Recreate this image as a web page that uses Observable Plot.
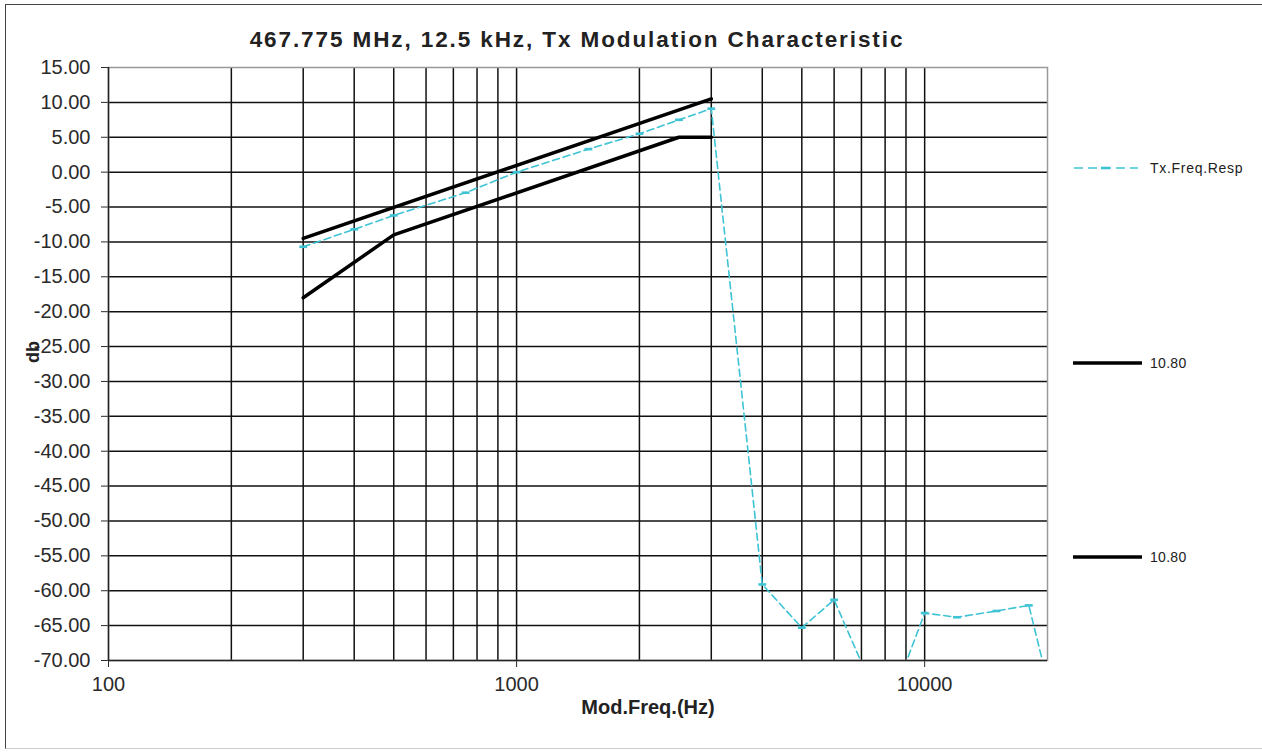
<!DOCTYPE html>
<html><head><meta charset="utf-8">
<script src="https://cdn.jsdelivr.net/npm/d3@7"></script>
<script src="https://cdn.jsdelivr.net/npm/@observablehq/plot@0.6"></script>
<style>
html,body{margin:0;padding:0;background:#fff;}
#wrap{position:relative;width:1262px;height:752px;overflow:hidden;font-family:"Liberation Sans",Arial,sans-serif;color:#222;}
#border{position:absolute;left:5px;top:4px;width:1262px;height:745px;border-left:1.5px solid #444;border-top:1.5px solid #444;border-bottom:1px solid #ccc;box-sizing:border-box;pointer-events:none}
#chart{position:absolute;left:0;top:0}
.t{position:absolute;white-space:nowrap}
#title{left:177px;width:800px;top:27px;text-align:center;font-weight:bold;font-size:22.5px;letter-spacing:1.9px;line-height:26px}
#xtitle{left:548px;width:200px;top:695px;text-align:center;font-weight:bold;font-size:20px;line-height:24px}
#ytitle{left:33px;top:352px;font-weight:bold;font-size:18px;transform:translate(-50%,-50%) rotate(-90deg);line-height:20px}
.leg{position:absolute;left:1070px;height:24px;display:flex;align-items:center;font-size:14px;color:#222}
.leg svg{margin-right:8px}
</style>
</head><body>
<div id="wrap">
  <div id="chart"></div>
  <div id="border"></div>
  <div class="t" id="title">467.775 MHz, 12.5 kHz, Tx Modulation Characteristic</div>
  <div class="t" id="xtitle">Mod.Freq.(Hz)</div>
  <div class="t" id="ytitle">db</div>
  <div id="legend"></div>
</div>
<script>
// ---- data ----
const txFreq = [300, 400, 500, 750, 1000, 1500, 2000, 2500, 3000, 4000, 5000, 6000, 7000, 8000, 9000, 10000, 12000, 15000, 18000, 20000];
const txDb   = [-10.7, -8.2, -6.2, -2.95, 0.0, 3.3, 5.5, 7.5, 9.1, -59.1, -65.3, -61.3, -70.3, -71.5, -70.3, -63.2, -63.8, -62.9, -62.1, -73.0];
const upperFreq = [300, 3000];
const upperDb   = [-9.5, 10.5];
const lowerFreq = [300, 500, 2500, 3000];
const lowerDb   = [-18.0, -9.0, 5.0, 5.0];
const seriesNames = ["Tx.Freq.Resp", "10.80", "10.80"];
const xTickValues = [100, 1000, 10000];
const yTickValues = [15, 10, 5, 0, -5, -10, -15, -20, -25, -30, -35, -40, -45, -50, -55, -60, -65, -70];
const xDomain = [100, 20000];
const yDomain = [-70, 15];

// ---- build ----
const tx = txFreq.map((f, i) => ({f, v: txDb[i]}));
const upper = upperFreq.map((f, i) => ({f, v: upperDb[i]}));
const lower = lowerFreq.map((f, i) => ({f, v: lowerDb[i]}));
const xGrid = [];
for (const dec of [100, 1000, 10000]) for (let k = 1; k <= 9; k++) { const v = dec * k; if (v > xDomain[0] && v < xDomain[1]) xGrid.push(v); }
const yGrid = yTickValues.filter(v => v > yDomain[0] && v < yDomain[1]);
const cyan = "#3DC3D4";
const dashSymbol = {draw(ctx, size) { const w = Math.sqrt(size); ctx.rect(-w, -1.3, 2 * w, 2.6); }};

const chart = Plot.plot({
  width: 1262, height: 752,
  marginLeft: 108, marginRight: 215, marginTop: 67, marginBottom: 92,
  style: {fontFamily: "'Liberation Sans', Arial, sans-serif", fontSize: "20px", color: "#2a2a2a", background: "transparent", overflow: "visible"},
  x: {type: "log", domain: xDomain, ticks: xTickValues, tickFormat: d => String(d), tickSize: 7, tickPadding: 9, label: null},
  y: {domain: yDomain, ticks: yTickValues, tickFormat: d => d.toFixed(2), tickSize: 7, tickPadding: 11, label: null},
  marks: [
    Plot.ruleX(xGrid, {stroke: "#111", strokeWidth: 1.5}),
    Plot.ruleY(yGrid, {stroke: "#111", strokeWidth: 1.5}),
    Plot.frame({stroke: "#999", strokeWidth: 1.5}),
    Plot.ruleX([xDomain[0]], {stroke: "#222", strokeWidth: 1.5}),
    Plot.ruleY([yDomain[0]], {stroke: "#222", strokeWidth: 1.5}),
    Plot.line(upper, {x: "f", y: "v", stroke: "#000", strokeWidth: 3.5}),
    Plot.line(lower, {x: "f", y: "v", stroke: "#000", strokeWidth: 3.5}),
    Plot.line(tx, {x: "f", y: "v", stroke: cyan, strokeWidth: 1.6, strokeDasharray: "7,4", clip: true}),
    Plot.dot(tx, {x: "f", y: "v", symbol: dashSymbol, r: 2.2, fill: cyan, stroke: "none", clip: true})
  ]
});
document.getElementById("chart").appendChild(chart);

// ---- legend ----
const legend = document.getElementById("legend");
const legItems = [
  {name: seriesNames[0], top: 156, kind: "tx"},
  {name: seriesNames[1], top: 351, kind: "lim"},
  {name: seriesNames[2], top: 545, kind: "lim"}
];
for (const it of legItems) {
  const d = document.createElement("div");
  d.className = "leg";
  d.style.top = it.top + "px";
  const line = it.kind === "tx"
    ? `<svg width="72" height="24"><line x1="4" x2="68" y1="12" y2="12" stroke="${cyan}" stroke-width="1.6" stroke-dasharray="9,5"/><rect x="31" y="10.7" width="9" height="2.6" fill="${cyan}"/></svg>`
    : `<svg width="72" height="24"><line x1="3" x2="72" y1="12" y2="12" stroke="#000" stroke-width="3.5"/></svg>`;
  d.innerHTML = line + `<span style="letter-spacing:${it.kind === "tx" ? 0.7 : 0.3}px">${it.name}</span>`;
  legend.appendChild(d);
}
</script>
</body></html>
